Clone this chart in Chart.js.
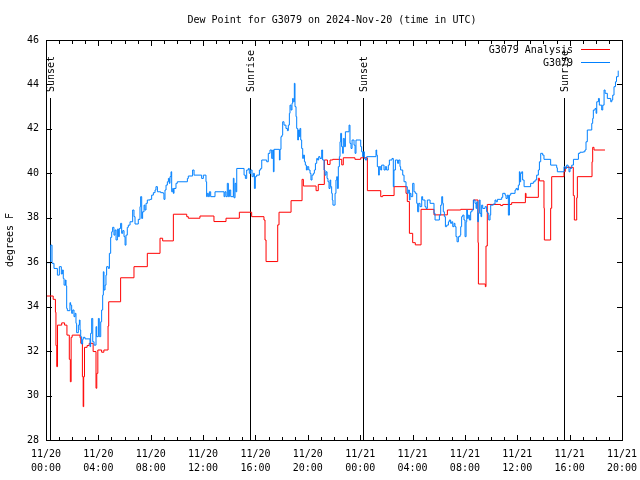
<!DOCTYPE html>
<html>
<head>
<meta charset="utf-8">
<script src="https://cdn.jsdelivr.net/npm/chart.js@4.4.1/dist/chart.umd.min.js"></script>
<style>
html,body{margin:0;padding:0;background:#fff;}
canvas{display:block;}
</style>
</head>
<body>
<canvas id="c" width="640" height="480"></canvas>
<script>
// ---- data (hours since 2024-11-20 00:00 UTC) ----
const chartTitle = 'Dew Point for G3079 on 2024-Nov-20 (time in UTC)';
const yAxisTitle = 'degrees F';
const seriesNames = ['G3079 Analysis', 'G3079'];

const xTickValues = [0,4,8,12,16,20,24,28,32,36,40,44];
const xTickLabels = [
  ['11/20','00:00'],['11/20','04:00'],['11/20','08:00'],['11/20','12:00'],['11/20','16:00'],['11/20','20:00'],
  ['11/21','00:00'],['11/21','04:00'],['11/21','08:00'],['11/21','12:00'],['11/21','16:00'],['11/21','20:00']
];
const yTickValues = [28,30,32,34,36,38,40,42,44,46];

const eventTimes = [0.31, 15.58, 24.24, 39.60];
const eventLabels = ['Sunset','Sunrise','Sunset','Sunrise'];

const redTimes = [
0.00,0.55,0.72,0.76,0.82,0.88,1.20,1.42,1.60,1.78,
1.86,1.92,2.00,2.60,2.66,2.78,2.84,2.88,2.94,3.14,
3.30,3.60,3.82,3.88,3.96,4.25,4.42,4.74,4.79,5.70,
6.72,7.74,8.71,8.91,9.73,10.75,10.87,11.76,12.83,13.75,
14.77,15.71,16.65,16.73,16.81,17.70,17.80,18.72,19.56,19.66,
20.63,20.80,21.26,21.50,21.70,21.90,22.59,22.71,23.60,24.04,
24.55,25.57,25.72,26.59,27.50,27.60,27.76,28.01,28.21,28.65,
29.64,30.66,31.68,32.65,33.00,33.03,33.56,33.61,33.71,34.73,
34.89,35.57,36.62,36.67,37.61,37.69,38.04,38.07,38.55,38.63,
39.57,39.67,40.28,40.36,40.54,40.59,41.71,41.76,41.86,42.70];
const redValues = [
34.48,34.33,33.75,32.25,31.30,33.17,33.27,33.17,32.72,31.63,
30.62,32.62,32.72,32.60,32.35,30.85,29.50,30.85,32.17,32.25,
32.35,31.98,30.33,31.00,32.05,31.95,32.05,33.13,34.22,35.30,
35.80,36.40,37.08,36.96,38.16,38.05,37.98,38.08,37.83,37.98,
38.25,38.05,37.90,37.00,36.03,37.68,38.25,38.77,39.73,39.43,
39.22,39.50,40.60,40.40,40.60,40.63,40.38,40.70,40.63,40.70,
39.22,38.95,39.00,39.40,39.10,38.73,37.30,36.88,36.78,38.38,
38.13,38.35,38.38,38.80,36.88,35.02,34.90,36.73,38.60,38.55,
38.60,38.68,39.10,38.92,39.78,39.66,38.43,37.00,38.43,39.85,
40.08,40.27,39.00,37.90,38.90,39.85,40.52,41.17,41.05,41.05];

const blueTimes = [
0.05,0.36,0.46,0.61,0.87,1.02,1.17,1.25,1.32,1.38,
1.48,1.53,1.58,1.63,1.83,1.88,1.96,2.04,2.14,2.22,
2.29,2.34,2.47,2.55,2.60,2.65,2.72,2.80,2.85,2.98,
3.36,3.41,3.49,3.57,3.67,3.82,3.87,4.00,4.07,4.18,
4.25,4.33,4.38,4.43,4.51,4.58,4.63,4.76,4.84,4.94,
5.02,5.09,5.19,5.27,5.35,5.45,5.53,5.60,5.70,5.78,
5.86,5.96,6.04,6.11,6.21,6.29,6.42,6.62,6.72,6.80,
7.05,7.18,7.23,7.31,7.38,7.49,7.56,7.64,7.74,7.95,
8.07,8.20,8.33,8.40,8.51,8.76,8.96,9.01,9.09,9.17,
9.27,9.35,9.42,9.47,9.55,9.60,9.68,9.73,9.78,9.93,
10.03,10.80,10.87,11.20,11.31,11.89,12.02,12.22,12.27,12.32,
12.40,12.48,12.58,12.91,13.60,13.67,13.75,13.85,13.93,14.01,
14.11,14.31,14.36,14.44,14.51,14.57,15.13,15.23,15.33,15.46,
15.53,15.64,15.74,15.84,15.92,15.99,16.09,16.30,16.40,16.48,
16.86,16.98,17.11,17.24,17.32,17.37,17.42,17.83,17.88,17.95,
18.03,18.08,18.18,18.33,18.44,18.51,18.59,18.64,18.72,18.79,
18.84,18.89,18.97,19.02,19.10,19.15,19.23,19.28,19.35,19.40,
19.46,19.53,19.61,19.66,19.74,19.81,19.89,19.96,20.07,20.17,
20.24,20.32,20.42,20.50,20.58,20.68,20.75,20.83,20.93,21.06,
21.13,21.24,21.31,21.39,21.47,21.54,21.62,21.70,21.75,21.82,
21.87,21.92,22.08,22.15,22.21,22.26,22.33,22.41,22.46,22.51,
22.58,22.66,22.71,22.79,22.87,23.15,23.22,23.30,23.38,23.53,
23.61,23.68,24.04,24.11,24.19,24.24,24.32,24.40,24.50,25.21,
25.26,25.31,25.41,25.46,25.57,25.64,25.82,25.92,26.02,26.15,
26.23,26.43,26.53,26.58,26.69,26.86,26.94,27.04,27.09,27.25,
27.35,27.50,27.60,27.68,27.76,27.81,27.88,28.01,28.11,28.21,
28.32,28.39,28.47,28.57,28.70,28.77,28.95,29.03,29.13,29.34,
29.64,29.72,30.05,30.15,30.23,30.30,30.35,30.43,30.51,30.61,
30.74,30.81,30.91,30.99,31.07,31.17,31.24,31.32,31.40,31.50,
31.63,31.68,31.75,31.83,31.93,32.01,32.09,32.14,32.19,32.26,
32.34,32.44,32.54,32.65,32.77,32.85,32.90,32.98,33.03,33.10,
33.16,33.23,33.28,33.36,33.54,33.66,33.74,33.82,33.92,33.97,
34.17,34.30,34.38,34.48,34.81,34.89,35.07,35.14,35.24,35.32,
35.40,35.50,35.83,35.91,36.01,36.08,36.16,36.21,36.26,36.34,
36.41,36.52,37.02,37.23,37.36,37.48,37.61,37.69,37.79,37.94,
38.04,38.55,39.01,39.06,39.57,39.67,39.77,39.88,39.95,40.03,
40.16,40.29,40.67,40.79,41.05,41.17,41.25,41.35,41.69,41.76,
41.81,41.94,42.02,42.07,42.20,42.27,42.45,42.53,42.63,42.71,
42.88,43.14,43.22,43.29,43.39,43.50,43.58,43.71];
const blueValues = [
35.98,36.77,35.95,35.72,35.42,35.80,35.47,35.65,35.27,34.97,
35.20,34.93,33.92,33.82,34.18,34.07,33.70,33.85,33.55,33.70,
33.25,32.83,33.17,33.40,32.95,32.65,32.32,32.53,32.62,32.55,
32.20,32.80,33.47,32.42,32.27,33.10,32.65,33.47,32.65,33.32,
33.85,34.52,35.57,34.75,34.97,35.42,35.80,35.72,36.40,37.12,
37.37,37.57,37.22,37.45,37.00,37.49,37.15,37.52,37.75,37.30,
37.42,37.15,36.77,37.22,37.57,37.67,37.82,38.35,38.05,37.72,
37.93,38.50,38.95,37.97,38.27,38.57,38.35,38.65,38.80,38.83,
39.02,39.13,39.25,39.40,39.17,39.13,39.10,38.83,39.25,39.47,
39.62,39.77,39.55,39.85,40.07,39.17,39.32,39.10,39.32,39.55,
39.62,39.77,39.88,40.15,39.92,39.77,39.92,39.62,38.95,39.10,
38.95,39.17,38.95,39.17,38.95,39.17,38.95,39.55,38.95,39.25,
38.95,39.78,38.90,39.55,39.17,40.22,39.92,39.77,40.15,40.22,
40.00,40.15,39.85,40.00,39.32,39.85,39.92,40.15,40.22,40.60,
40.52,40.90,41.05,40.67,41.05,40.07,41.08,40.60,41.08,41.65,
41.72,42.32,42.17,42.02,41.92,42.17,42.70,43.07,42.85,43.15,
43.37,43.22,44.05,43.00,42.55,42.02,41.50,41.95,41.65,42.02,
41.50,41.12,40.67,40.82,40.52,40.37,40.15,40.30,40.15,40.00,
39.70,39.92,40.00,40.15,40.45,40.67,40.60,40.75,40.67,41.05,
40.60,40.15,39.92,40.07,39.77,39.62,39.32,39.70,39.40,39.10,
38.80,38.57,39.10,39.70,39.85,39.32,40.30,40.75,41.42,41.80,
41.20,40.90,41.57,41.20,41.87,42.17,41.35,41.12,41.50,41.27,
40.90,41.50,41.20,40.97,40.75,40.97,40.67,40.60,40.75,41.05,
40.82,40.30,39.92,40.30,40.15,40.37,40.15,40.30,40.15,40.37,
40.60,40.67,39.40,40.15,40.60,40.45,40.60,40.30,40.15,39.92,
39.62,39.40,39.10,39.25,38.80,39.10,38.95,39.55,39.17,39.10,
38.65,38.27,38.65,38.50,38.95,38.80,38.50,38.42,38.80,38.65,
38.20,37.90,38.12,38.57,38.95,38.65,38.27,38.05,37.60,37.67,
37.82,37.90,37.75,37.82,37.60,37.75,37.60,37.15,36.92,37.15,
37.22,37.60,38.05,38.12,37.90,37.15,37.82,38.35,37.97,38.12,
37.90,38.27,38.35,38.80,38.65,38.42,38.72,37.82,38.20,38.80,
38.20,38.05,38.57,38.42,38.50,38.27,38.20,37.90,38.12,38.57,
38.62,38.80,38.72,38.83,38.92,39.10,39.02,38.87,39.02,38.12,
39.02,39.10,39.25,39.32,39.25,39.47,40.07,39.62,40.00,40.07,
39.70,39.40,39.55,39.62,39.70,39.92,40.15,40.52,40.90,40.82,
40.63,40.37,40.25,40.07,40.30,40.22,40.37,40.30,40.07,40.22,
40.37,40.63,40.90,40.95,40.97,41.05,41.42,41.95,42.25,42.47,
42.85,42.92,42.70,43.22,43.37,43.07,42.85,43.07,43.75,43.60,
43.37,43.22,43.30,43.52,43.90,44.12,44.35,44.62];

// ---- styling ----
const FONT = '"DejaVu Sans Mono", "Liberation Mono", monospace';
const RED = '#ff0000';
const BLUE = '#0080ff';

const overlayPlugin = {
  id: 'overlay',
  beforeDatasetsDraw(chart) {
    const {ctx, chartArea: a, scales: {x}} = chart;
    ctx.save();
    ctx.fillStyle = '#000';
    ctx.font = '10px ' + FONT;
    eventTimes.forEach((t, i) => {
      const px = Math.round(x.getPixelForValue(t));
      ctx.fillRect(px, a.top + 58, 1, a.bottom - a.top - 58);
      ctx.save();
      ctx.translate(px + 1, a.top + 52);
      ctx.rotate(-Math.PI / 2);
      ctx.textAlign = 'left';
      ctx.textBaseline = 'middle';
      ctx.fillText(eventLabels[i], 0, 0);
      ctx.restore();
    });
    ctx.restore();
  },
  afterDatasetsDraw(chart) {
    const {ctx, chartArea: a, scales: {x, y}} = chart;
    ctx.save();
    ctx.fillStyle = '#000';
    const L = Math.round(a.left), R = Math.round(a.right), T = Math.round(a.top), B = Math.round(a.bottom);
    // frame
    ctx.fillRect(L, T, R - L + 1, 1);
    ctx.fillRect(L, B, R - L + 1, 1);
    ctx.fillRect(L, T, 1, B - T + 1);
    ctx.fillRect(R, T, 1, B - T + 1);
    // x ticks (major + minor, mirrored)
    for (let h = 0; h <= 44; h++) {
      const px = Math.round(x.getPixelForValue(h));
      const len = (h % 4 === 0) ? 5 : 3;
      ctx.fillRect(px, B - len, 1, len);
      ctx.fillRect(px, T + 1, 1, len);
    }
    // y ticks mirrored
    yTickValues.forEach(v => {
      const py = Math.round(y.getPixelForValue(v));
      ctx.fillRect(L + 1, py, 5, 1);
      ctx.fillRect(R - 5, py, 5, 1);
    });

    ctx.font = '10px ' + FONT;
    // title
    ctx.textAlign = 'center';
    ctx.textBaseline = 'middle';
    ctx.fillText(chartTitle, 332, 20);
    // y-axis title
    ctx.save();
    ctx.translate(10, 240);
    ctx.rotate(-Math.PI / 2);
    ctx.fillText(yAxisTitle, 0, 0);
    ctx.restore();
    // legend
    const colors = [RED, BLUE];
    seriesNames.forEach((name, i) => {
      const ly = 49 + i * 13;
      ctx.fillStyle = '#000';
      ctx.textAlign = 'right';
      ctx.textBaseline = 'middle';
      ctx.fillText(name, 573, ly + 1);
      ctx.fillStyle = colors[i];
      ctx.fillRect(581, ly, 29, 1);
    });
    ctx.restore();
  }
};

const toPoints = (ts, vs) => ts.map((t, i) => ({x: t, y: vs[i]}));

new Chart(document.getElementById('c'), {
  type: 'line',
  data: {
    datasets: [
      {label: seriesNames[0], data: toPoints(redTimes, redValues), borderColor: RED, borderWidth: 1,
       pointRadius: 0, stepped: true, fill: false, order: 2},
      {label: seriesNames[1], data: toPoints(blueTimes, blueValues), borderColor: BLUE, borderWidth: 1,
       pointRadius: 0, stepped: true, fill: false, order: 1}
    ]
  },
  options: {
    responsive: false,
    animation: false,
    devicePixelRatio: 1,
    layout: {padding: {left: 0, right: 18, top: 40, bottom: 0}},
    plugins: {legend: {display: false}, title: {display: false}, tooltip: {enabled: false}},
    scales: {
      x: {
        type: 'linear', min: 0, max: 44,
        afterBuildTicks: s => { s.ticks = xTickValues.map(v => ({value: v})); },
        afterFit: s => { s.height = 40; s.paddingLeft = 0; s.paddingRight = 0; },
        ticks: {
          callback: (v, i) => xTickLabels[i],
          autoSkip: false, maxRotation: 0, minRotation: 0,
          color: '#000', padding: 7,
          font: {family: FONT, size: 10, lineHeight: 1.4}
        },
        grid: {display: false, drawTicks: false},
        border: {display: false}
      },
      y: {
        min: 28, max: 46,
        afterBuildTicks: s => { s.ticks = yTickValues.map(v => ({value: v})); },
        afterFit: s => { s.width = 46; s.paddingTop = 0; s.paddingBottom = 0; },
        ticks: {color: '#000', padding: 7, font: {family: FONT, size: 10}},
        grid: {display: false, drawTicks: false},
        border: {display: false}
      }
    }
  },
  plugins: [overlayPlugin]
});
</script>
</body>
</html>
